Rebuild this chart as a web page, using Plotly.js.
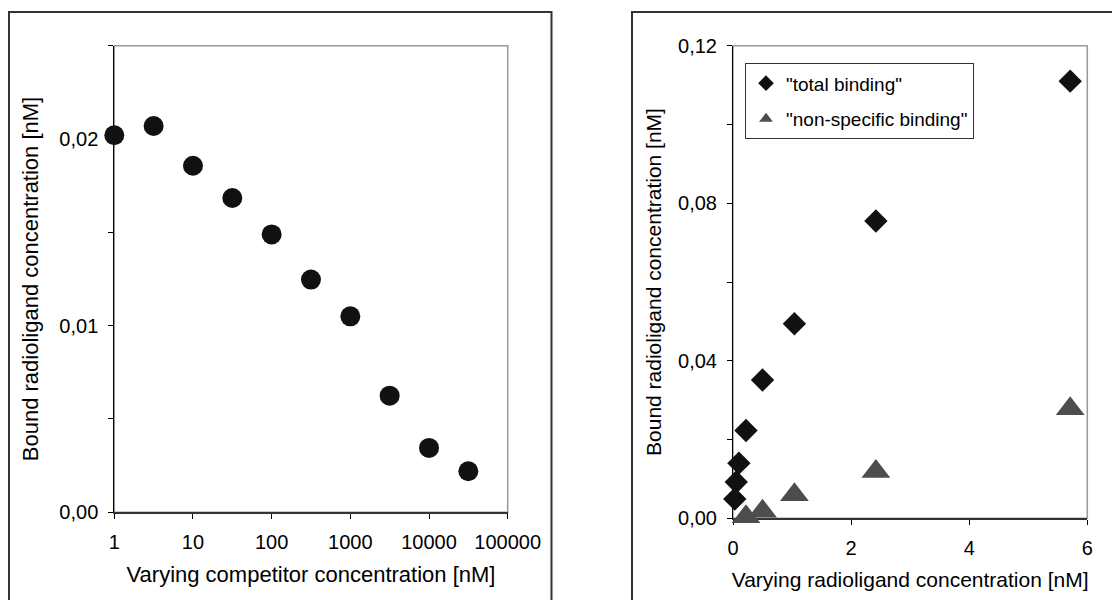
<!DOCTYPE html>
<html>
<head>
<meta charset="utf-8">
<script src="https://cdn.plot.ly/plotly-3.0.1.min.js"></script>
<style>
  html, body { margin: 0; padding: 0; background: #fff; }
  #chart { width: 1112px; height: 600px; }
</style>
</head>
<body>
<div id="chart"></div>
<script>
// ---- Left panel: competition binding ----
const competitorConc = [1, 3.16, 10, 31.6, 100, 316, 1000, 3160, 10000, 31600];   // nM
const competitorBound = [0.0202, 0.0207, 0.01857, 0.01684, 0.01489, 0.01247, 0.0105, 0.00625, 0.00345, 0.0022];
const competitorTickVals = [1, 10, 100, 1000, 10000, 100000];
const competitorTickText = ["1", "10", "100", "1000", "10000", "100000"];

// ---- Right panel: saturation binding ----
const totalConc = [0.03, 0.055, 0.1, 0.22, 0.5, 1.04, 2.42, 5.71];            // nM
const totalBound = [0.0049, 0.0092, 0.0140, 0.0223, 0.0351, 0.0494, 0.0755, 0.1110];
const nonSpecConc = [0.22, 0.5, 1.04, 2.42, 5.71];
const nonSpecBound = [0.0004, 0.0018, 0.0060, 0.0119, 0.0278];

const seriesNames = ['"total binding"', '"non-specific binding"'];
const xTitleLeft = "Varying competitor concentration [nM]";
const xTitleRight = "Varying radioligand concentration [nM]";
const yTitle = "Bound radioligand concentration [nM]";

const FONT = "Liberation Sans, Arial, Helvetica, sans-serif";
const W = 1112, H = 600;
const px = v => v / W;
const py = v => 1 - v / H;

const traces = [
  {
    x: competitorConc, y: competitorBound, xaxis: "x", yaxis: "y",
    type: "scatter", mode: "markers", showlegend: false, cliponaxis: false,
    marker: { symbol: "circle", size: 20, color: "#111111" }
  },
  {
    x: totalConc, y: totalBound, xaxis: "x2", yaxis: "y2", name: seriesNames[0], legendgroup: "g1",
    type: "scatter", mode: "markers", cliponaxis: false,
    marker: { symbol: "diamond", size: 18, color: "#111111" }
  },
  {
    x: nonSpecConc, y: nonSpecBound, xaxis: "x2", yaxis: "y2", name: seriesNames[1], legendgroup: "g2",
    type: "scatter", mode: "markers", cliponaxis: false,
    marker: { symbol: "triangle-up", size: 25, color: "#4d4d4d" }
  }
];

const tickFont = { family: FONT, size: 20, color: "#000" };
const titleFont = { family: FONT, size: 22, color: "#000" };

const leftX = [px(114.3), px(507.7)];
const leftY = [py(512.3), py(45.7)];
const rightX = [px(733), px(1087.3)];
const rightY = [py(518.3), py(45.7)];

const baseAxis = { showgrid: false, zeroline: false, fixedrange: true, layer: "below traces" };

const layout = {
  width: W, height: H,
  margin: { l: 0, r: 0, t: 0, b: 0 },
  paper_bgcolor: "#ffffff", plot_bgcolor: "rgba(0,0,0,0)",
  separators: ",.",
  font: { family: FONT, color: "#000" },
  showlegend: true,
  legend: {
    x: px(745), y: py(63.3), xanchor: "left", yanchor: "top",
    bgcolor: "#ffffff", bordercolor: "#333333", borderwidth: 1,
    font: { family: FONT, size: 19, color: "#000" },
    itemsizing: "constant", tracegroupgap: 8
  },
  xaxis: Object.assign({}, baseAxis, {
    domain: leftX, anchor: "y", type: "log", range: [0, 5],
    tickvals: competitorTickVals, ticktext: competitorTickText,
    ticks: "outside", ticklen: 5, tickwidth: 1, tickcolor: "#000",
    showline: true, linecolor: "#333", linewidth: 2,
    tickfont: tickFont, ticklabelstandoff: 6,
    title: { text: xTitleLeft, font: titleFont, standoff: 14 }
  }),
  yaxis: Object.assign({}, baseAxis, {
    domain: leftY, anchor: "x", range: [0, 0.025],
    dtick: 0.01, tick0: 0, tickformat: ".2f",
    ticks: "outside", ticklen: 5, tickwidth: 1, tickcolor: "#000",
    minor: { dtick: 0.005, ticks: "outside", ticklen: 5, tickwidth: 1, tickcolor: "#000", showgrid: false },
    showline: true, linecolor: "#000", linewidth: 1,
    tickfont: tickFont, ticklabelstandoff: 6,
    title: { text: yTitle, font: titleFont, standoff: 14 }
  }),
  xaxis3: Object.assign({}, baseAxis, {
    overlaying: "x", anchor: "y", type: "log", range: [0, 5],
    tickvals: competitorTickVals, ticks: "inside", ticklen: 5, tickwidth: 1, tickcolor: "#000",
    showticklabels: false, showline: false
  }),
  yaxis3: Object.assign({}, baseAxis, {
    overlaying: "y", anchor: "x", range: [0, 0.025], dtick: 0.005, tick0: 0,
    ticks: "inside", ticklen: 5, tickwidth: 1, tickcolor: "#000",
    showticklabels: false, showline: false
  }),
  xaxis2: Object.assign({}, baseAxis, {
    domain: rightX, anchor: "y2", range: [0, 6], dtick: 2, tick0: 0,
    ticks: "outside", ticklen: 5, tickwidth: 1, tickcolor: "#000",
    showline: true, linecolor: "#333", linewidth: 2,
    tickfont: tickFont, ticklabelstandoff: 6,
    title: { text: xTitleRight, font: { family: FONT, size: 21, color: "#000" }, standoff: 14 }
  }),
  yaxis2: Object.assign({}, baseAxis, {
    domain: rightY, anchor: "x2", range: [0, 0.12],
    dtick: 0.04, tick0: 0, tickformat: ".2f",
    ticks: "outside", ticklen: 5, tickwidth: 1, tickcolor: "#000",
    minor: { dtick: 0.02, ticks: "outside", ticklen: 5, tickwidth: 1, tickcolor: "#000", showgrid: false },
    showline: true, linecolor: "#000", linewidth: 1,
    tickfont: tickFont, ticklabelstandoff: 6,
    title: { text: yTitle, font: { family: FONT, size: 21, color: "#000" }, standoff: 10 }
  }),
  xaxis4: Object.assign({}, baseAxis, {
    overlaying: "x2", anchor: "y2", range: [0, 6], dtick: 2, tick0: 0,
    ticks: "inside", ticklen: 5, tickwidth: 1, tickcolor: "#000",
    showticklabels: false, showline: false
  }),
  yaxis4: Object.assign({}, baseAxis, {
    overlaying: "y2", anchor: "x2", range: [0, 0.12], dtick: 0.02, tick0: 0,
    ticks: "inside", ticklen: 5, tickwidth: 1, tickcolor: "#000",
    showticklabels: false, showline: false
  }),
  shapes: [
    // outer frames of the two panels
    { type: "rect", xref: "paper", yref: "paper", x0: px(9), x1: px(551.5), y0: -0.1, y1: py(12),
      line: { color: "#333333", width: 2 }, layer: "below" },
    { type: "rect", xref: "paper", yref: "paper", x0: px(632), x1: 1.1, y0: -0.1, y1: py(12),
      line: { color: "#333333", width: 2 }, layer: "below" },
    // plot-area frames (grey)
    { type: "rect", xref: "x domain", yref: "y domain", x0: 0, x1: 1, y0: 0, y1: 1,
      line: { color: "#999999", width: 1.5 }, layer: "below" },
    { type: "rect", xref: "x2 domain", yref: "y2 domain", x0: 0, x1: 1, y0: 0, y1: 1,
      line: { color: "#999999", width: 1.5 }, layer: "below" }
  ]
};

Plotly.newPlot("chart", traces, layout, { staticPlot: true, displayModeBar: false });
</script>
</body>
</html>
